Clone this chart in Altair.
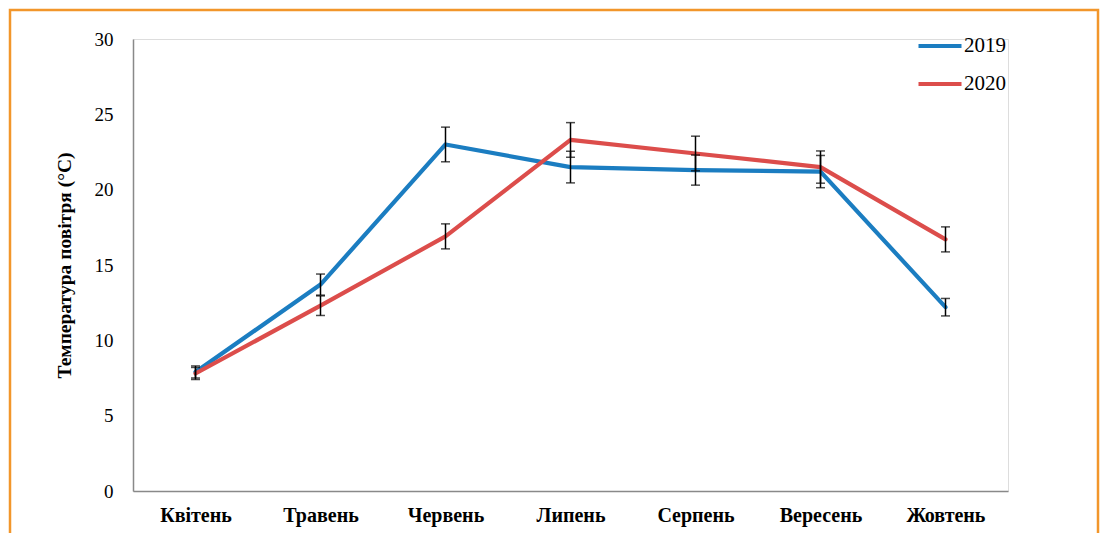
import altair as alt
import pandas as pd

months = ["Квітень", "Травень", "Червень", "Липень", "Серпень", "Вересень", "Жовтень"]
years = ["2019", "2020"]
t2019 = [7.9, 13.7, 23.0, 21.5, 21.3, 21.2, 12.2]
t2020 = [7.8, 12.3, 16.9, 23.3, 22.4, 21.5, 16.7]
err2019 = [0.4, 0.7, 1.15, 1.05, 1.0, 1.07, 0.58]
err2020 = [0.4, 0.65, 0.83, 1.15, 1.15, 1.07, 0.83]
colors = ["#1B7DC1", "#DC4D4B"]
y_ticks = [0, 5, 10, 15, 20, 25, 30]

rows = []
for yr, vals, errs in [("2019", t2019, err2019), ("2020", t2020, err2020)]:
    for i, (m, v, e) in enumerate(zip(months, vals, errs)):
        rows.append({"month": m, "idx": i, "year": yr, "temp": v,
                     "lo": v - e, "hi": v + e})
df = pd.DataFrame(rows)

FONT = "Liberation Serif"

x_enc = alt.X("month:N", sort=months,
              scale=alt.Scale(type="point", padding=0.5, domain=months),
              axis=alt.Axis(title=None, labelAngle=0, ticks=False, labelPadding=14,
                            labelFont=FONT, labelFontSize=20, labelFontWeight="bold",
                            labelColor="#000", domainColor="#898989", domainWidth=1.5,
                            grid=False))
y_scale = alt.Scale(domain=[0, 30], nice=False)

base = alt.Chart(df)

lines = base.mark_line(strokeWidth=4.2, strokeCap="round", strokeJoin="round").encode(
    x=x_enc,
    y=alt.Y("temp:Q", scale=y_scale,
            axis=alt.Axis(title="Температура повітря (°С)", values=y_ticks, ticks=False,
                          grid=False, labelPadding=20, labelFont=FONT, labelFontSize=19,
                          labelColor="#000", domainColor="#898989", domainWidth=1.5,
                          titleFont=FONT, titleFontSize=19.5, titleFontWeight="bold",
                          titleColor="#000", titlePadding=20)),
    color=alt.Color("year:N", scale=alt.Scale(domain=years, range=colors),
                    legend=alt.Legend(title=None, orient="none", legendX=783, legendY=-3,
                                      symbolType="stroke", symbolSize=1849,
                                      symbolStrokeWidth=4.2, labelFont=FONT,
                                      labelFontSize=21, labelColor="#000",
                                      clipHeight=20, rowPadding=17, labelOffset=0)),
    order=alt.Order("idx:Q"),
)

rules = base.mark_rule(color="#000", strokeWidth=1.5).encode(
    x=alt.X("month:N", sort=months), y=alt.Y("lo:Q", scale=y_scale), y2="hi:Q")
cap_lo = base.mark_tick(color="#000", thickness=1.5, size=9, orient="horizontal").encode(
    x=alt.X("month:N", sort=months), y=alt.Y("lo:Q", scale=y_scale))
cap_hi = base.mark_tick(color="#000", thickness=1.5, size=9, orient="horizontal").encode(
    x=alt.X("month:N", sort=months), y=alt.Y("hi:Q", scale=y_scale))

border = alt.Chart(pd.DataFrame({"a": [0]})).mark_rect(
    fill=None, stroke="#F2962B", strokeWidth=2.5).encode(
    x=alt.value(-123), x2=alt.value(965), y=alt.value(-29), y2=alt.value(530))

chart = alt.layer(lines, rules, cap_lo, cap_hi, border).properties(
    width=875, height=452,
    autosize=alt.AutoSizeParams(type="none"),
    padding={"left": 125, "top": 31, "right": 92, "bottom": 42},
).configure_view(stroke=None).configure(background="white")

chart.save("out.html", embed_options={"renderer": "svg", "actions": False})
